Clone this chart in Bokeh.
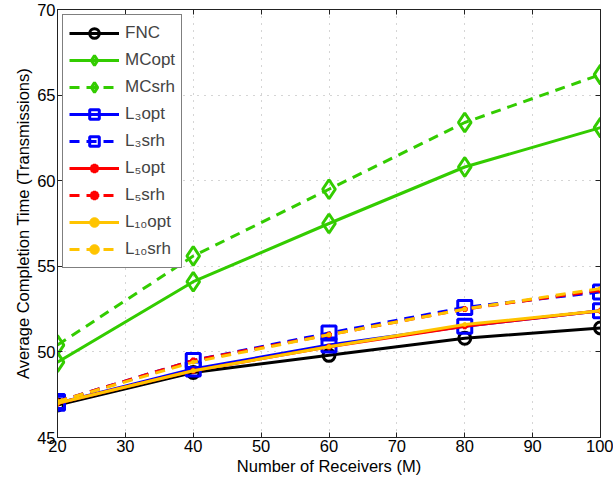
from bokeh.plotting import figure
from bokeh.models import Legend, LegendItem, LinearAxis, FixedTicker, Range1d
from bokeh.embed import file_html
from bokeh.resources import INLINE

# Number of receivers
receivers = [20, 40, 60, 80, 100]

# Average completion time (transmissions) per scheme
fnc = [46.9, 48.8, 49.8, 50.8, 51.4]
mc_opt = [49.4, 54.1, 57.5, 60.8, 63.1]
mc_srh = [50.4, 55.6, 59.5, 63.4, 66.2]
l3_opt = [47.0, 49.0, 50.4, 51.5, 52.4]
l3_srh = [47.1, 49.5, 51.1, 52.6, 53.5]
l5_opt = [47.0, 48.9, 50.3, 51.5, 52.4]
l5_srh = [47.1, 49.5, 51.0, 52.5, 53.6]
l10_opt = [47.0, 48.9, 50.3, 51.6, 52.4]
l10_srh = [47.1, 49.4, 51.0, 52.5, 53.7]

x_ticks = [20, 30, 40, 50, 60, 70, 80, 90, 100]
y_ticks = [45, 50, 55, 60, 65, 70]

FONT = "Liberation Sans"
GREEN = "#33CC00"
BLUE = "#0000FF"
RED = "#FF0000"
YELLOW = "#FFC400"
DASH = "10 7"

p = figure(width=613, height=485, output_backend="svg", toolbar_location=None,
           x_range=Range1d(20, 100), y_range=Range1d(45, 70),
           min_border_left=57, min_border_right=13, min_border_top=9, min_border_bottom=48,
           x_axis_label="Number of Receivers (M)",
           y_axis_label="Average Completion Time (Transmissions)")
p.outline_line_color = "#222222"
p.outline_line_width = 1

for ax in p.xaxis + p.yaxis:
    ax.major_tick_in = 5
    ax.major_tick_out = 0
    ax.minor_tick_line_color = None
    ax.major_label_text_font = FONT
    ax.major_label_text_font_size = "16.5px"
    ax.major_label_text_color = "black"
    ax.axis_label_text_font = FONT
    ax.axis_label_text_font_size = "16.5px"
    ax.axis_label_text_font_style = "normal"
    ax.axis_label_text_color = "black"
    ax.axis_line_color = "#222222"
    ax.major_tick_line_color = "#222222"
    ax.axis_label_standoff = 2
    ax.major_label_standoff = 2
p.xaxis.ticker = FixedTicker(ticks=x_ticks)
p.yaxis.ticker = FixedTicker(ticks=y_ticks)

# mirrored axes on top and right (ticks only)
for loc, ticks in (("right", y_ticks), ("above", x_ticks)):
    ax = LinearAxis(ticker=FixedTicker(ticks=ticks), major_label_text_color=None,
                    major_tick_in=5, major_tick_out=0, minor_tick_line_color=None,
                    axis_line_color="#222222", major_tick_line_color="#222222",
                    major_label_text_font_size="1px", major_label_standoff=0)
    p.add_layout(ax, loc)

for g in (p.xgrid[0], p.ygrid[0]):
    g.grid_line_color = "#aaaaaa"
    g.grid_line_dash = "1 6"
    g.grid_line_width = 1
p.xgrid.ticker = FixedTicker(ticks=x_ticks)
p.ygrid.ticker = FixedTicker(ticks=y_ticks)

items = []

def series(label, ys, color, dash, marker, size, lw_marker=3, fill=None):
    r1 = p.line(receivers, ys, line_color=color, line_width=3, line_dash=dash)
    r2 = p.scatter(receivers, ys, marker=marker, size=size, line_color=color,
                   line_width=lw_marker, fill_color=fill)
    items.append(LegendItem(label=label, renderers=[r1, r2]))

series("FNC", fnc, "black", "solid", "circle", 12)
series("MCopt", mc_opt, GREEN, "solid", "diamond", 19)
series("MCsrh", mc_srh, GREEN, DASH, "diamond", 19)
series("L₃opt", l3_opt, BLUE, "solid", "square", 14)
series("L₃srh", l3_srh, BLUE, DASH, "square", 14)
series("L₅opt", l5_opt, RED, "solid", "asterisk", 6, 3)
series("L₅srh", l5_srh, RED, DASH, "asterisk", 6, 3)
series("L₁₀opt", l10_opt, YELLOW, "solid", "circle", 4, 1, YELLOW)
series("L₁₀srh", l10_srh, YELLOW, DASH, "circle", 4, 1, YELLOW)

legend = Legend(items=items, location="top_left", margin=5,
                label_text_font=FONT, label_text_font_size="17px",
                glyph_width=50, glyph_height=24, label_height=24, spacing=3,
                padding=6, label_standoff=6,
                border_line_color="black", border_line_width=1,
                background_fill_color="white", background_fill_alpha=1)
p.add_layout(legend, "center")

open("out.html", "w").write(file_html(p, INLINE))
